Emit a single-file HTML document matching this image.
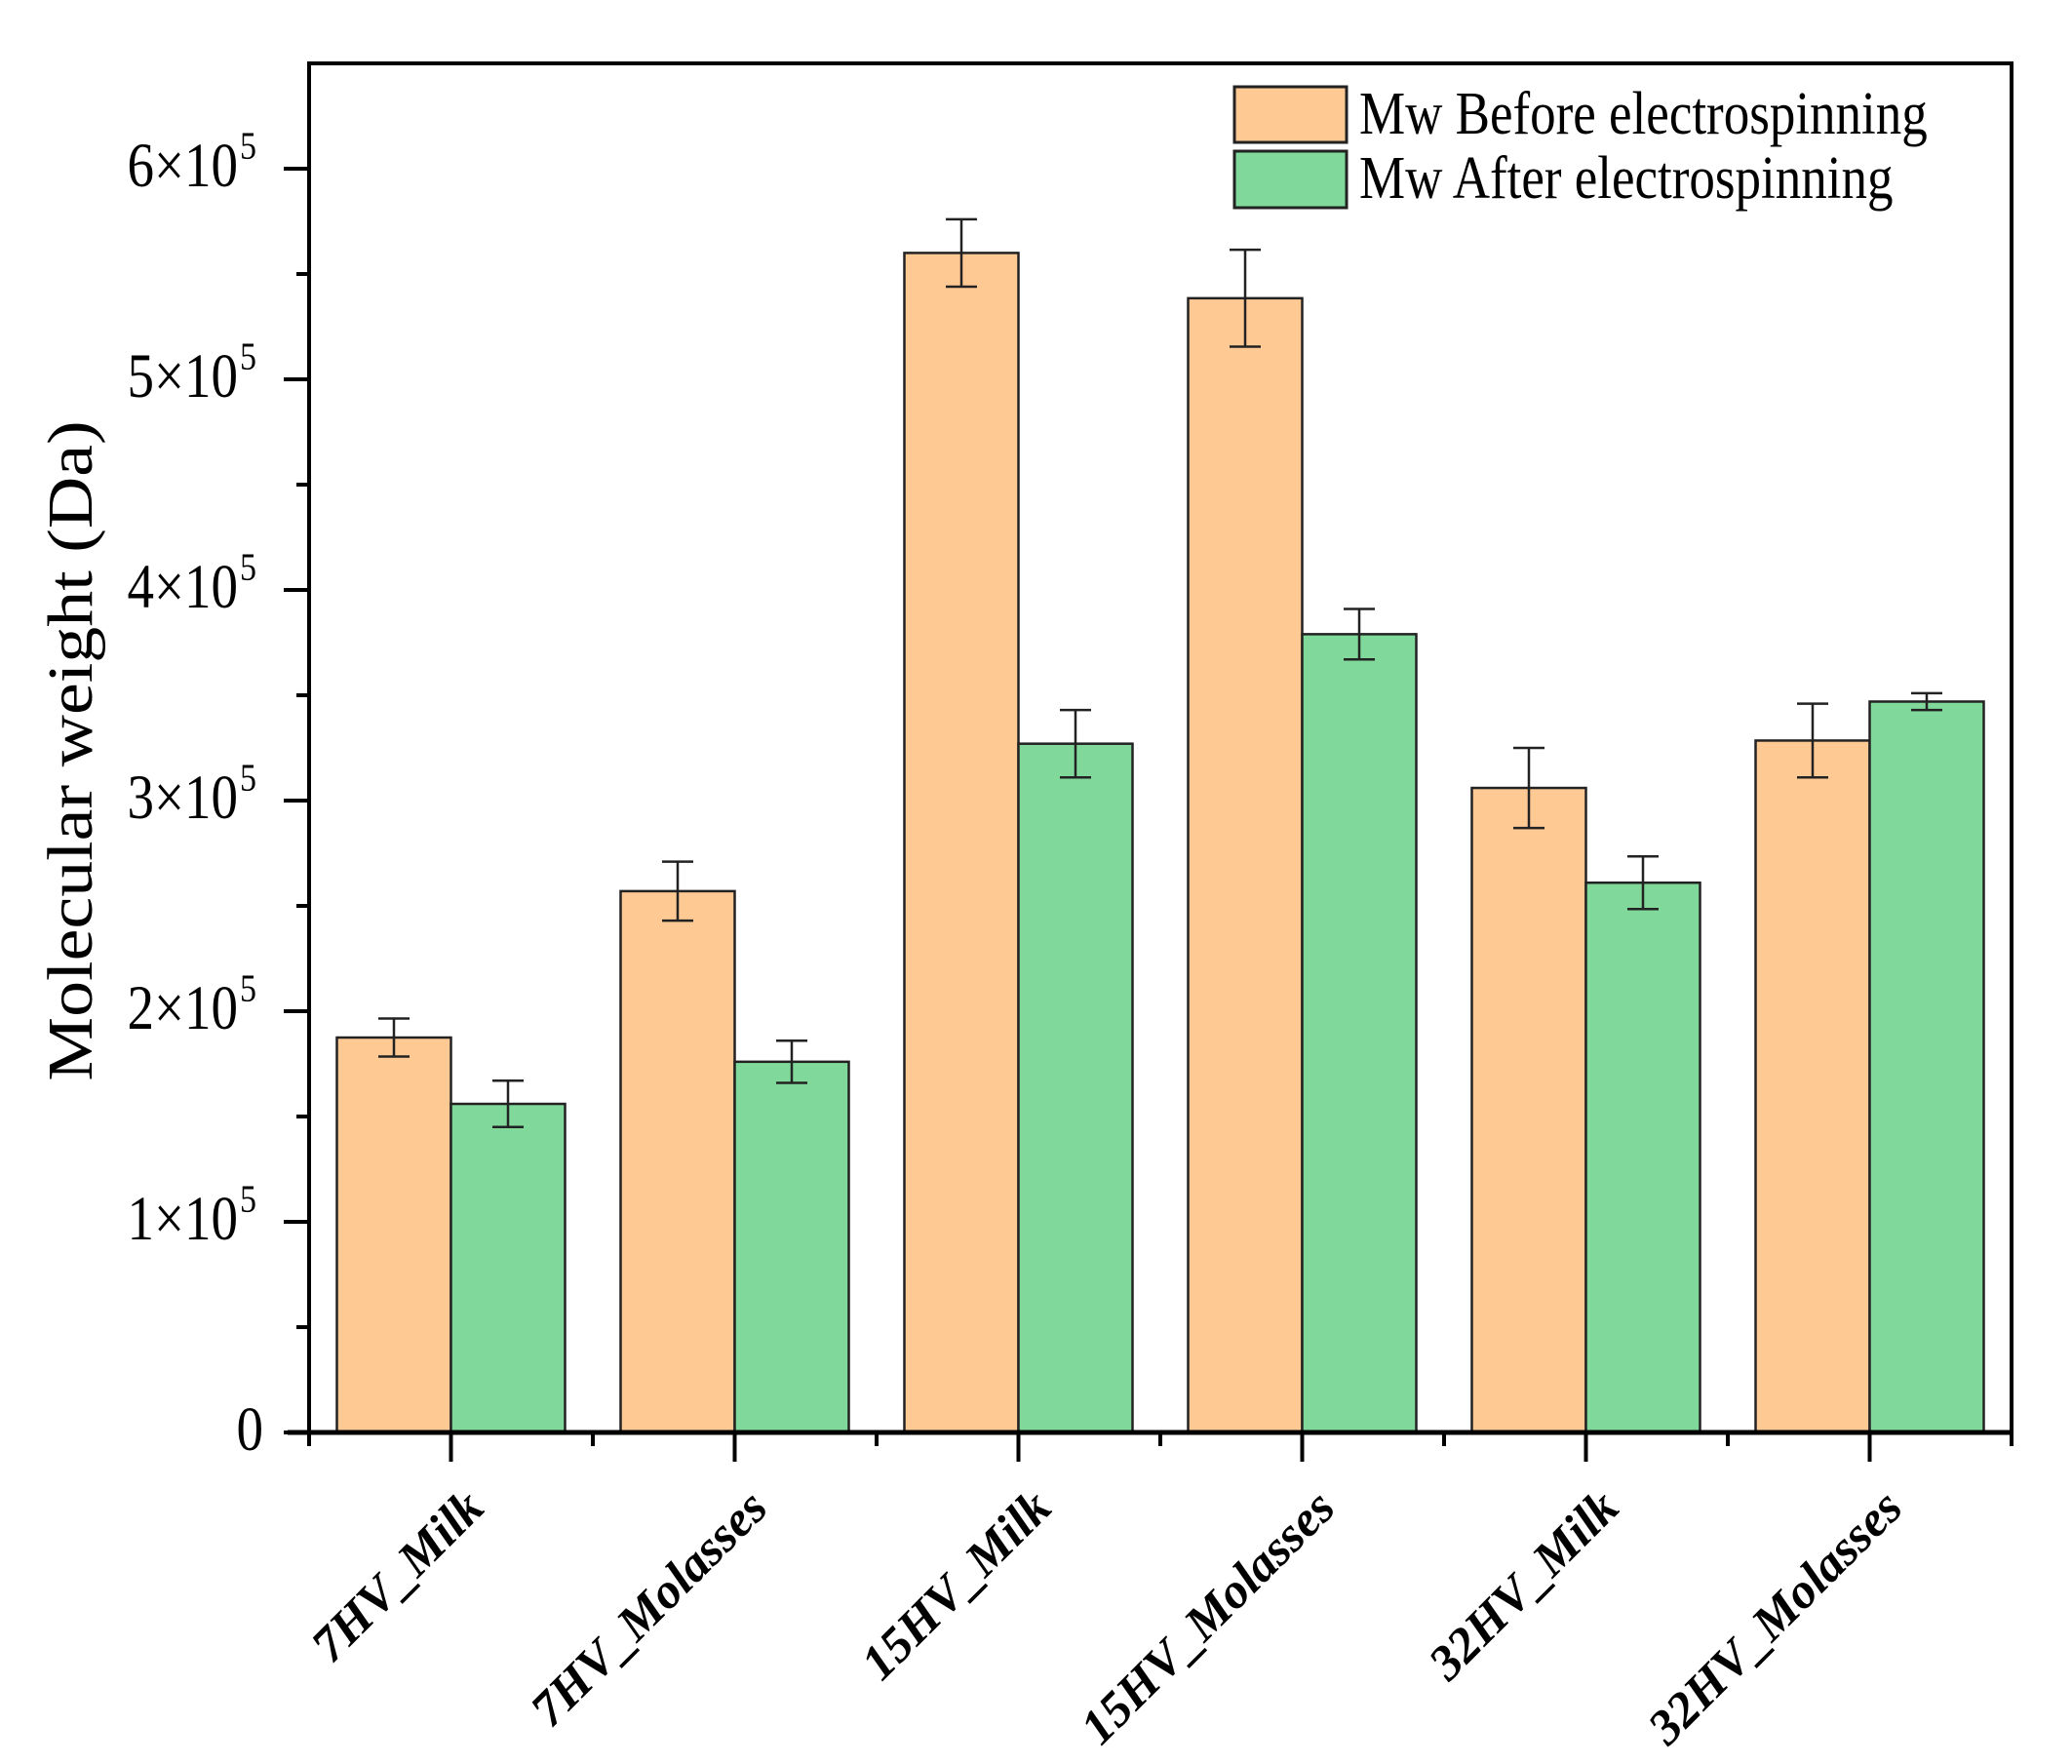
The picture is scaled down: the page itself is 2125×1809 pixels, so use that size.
<!DOCTYPE html>
<html><head><meta charset="utf-8"><style>
html,body{margin:0;padding:0;background:#fff}
svg{display:block}
text{font-family:"Liberation Serif","Times New Roman",serif;fill:#000}
</style></head><body>
<svg id="chart" width="2125" height="1809" viewBox="0 0 2125 1809" xmlns="http://www.w3.org/2000/svg">
<g id="bars"></g>
<g id="axes"></g>
<text transform="translate(94,770) rotate(-90) scale(1.12,1)" text-anchor="middle" font-size="66">Molecular weight (Da)</text>
<g>
<rect x="1266" y="89" width="115" height="57" fill="#ffc994" stroke="#222" stroke-width="3"/>
<rect x="1266" y="155" width="115" height="58" fill="#80d99b" stroke="#222" stroke-width="3"/>
<text transform="translate(1394,137) scale(1,1.17)" font-size="53">Mw Before electrospinning</text>
<text transform="translate(1394,203) scale(1,1.17)" font-size="53">Mw After electrospinning</text>
</g>
</svg>
<script>
const categories = ["7HV_Milk","7HV_Molasses","15HV_Milk","15HV_Molasses","32HV_Milk","32HV_Molasses"];
const before = [187500, 257000, 560000, 538500, 306000, 328500];
const beforeErr = [9000, 14000, 16000, 23000, 19000, 17500];
const after = [156000, 176000, 327000, 379000, 261000, 347000];
const afterErr = [11000, 10000, 16000, 12000, 12500, 4000];
const yTicks = [0,1,2,3,4,5,6];

const NS = "http://www.w3.org/2000/svg";
const X0 = 317, X1 = 2063, Y0 = 1469, YTOP = 65;
const perUnit = (1469 - 173) / 600000;
const y = v => Y0 - v * perUnit;
const step = (X1 - X0) / categories.length;
const xc = i => X0 + step * (i + 0.5);
const bw = 117;

function mk(tag, attrs, parent){
  const e = document.createElementNS(NS, tag);
  for (const k in attrs) e.setAttribute(k, attrs[k]);
  parent.appendChild(e);
  return e;
}
const bars = document.getElementById('bars');
const axes = document.getElementById('axes');

function errBar(cx, v, err, parent){
  const g = mk('g', {stroke:'#222','stroke-width':2.5,fill:'none'}, parent);
  
  
  mk('line', {x1:cx, x2:cx, y1:y(v+err), y2:y(v-err)}, g);
  mk('line', {x1:cx-16, x2:cx+16, y1:y(v+err), y2:y(v+err)}, g);
  mk('line', {x1:cx-16, x2:cx+16, y1:y(v-err), y2:y(v-err)}, g);
}

categories.forEach((c, i) => {
  const cx = xc(i);
  const b = mk('rect', {x:cx-bw, y:y(before[i]), width:bw, height:Y0-y(before[i]), fill:'#ffc994', stroke:'#222','stroke-width':2.5}, bars);
  
  
  const a = mk('rect', {x:cx, y:y(after[i]), width:bw, height:Y0-y(after[i]), fill:'#80d99b', stroke:'#222','stroke-width':2.5}, bars);
  
  
  errBar(cx - bw/2, before[i], beforeErr[i], bars);
  errBar(cx + bw/2, after[i], afterErr[i], bars);
});

const frame = mk('path', {d:`M${X0},${Y0} V${YTOP} H${X1} V${Y0}`, fill:'none', stroke:'#000','stroke-width':4}, axes);


const xaxis = mk('line', {x1:X0-22, x2:X1+2, y1:Y0, y2:Y0, stroke:'#000','stroke-width':5}, axes);



yTicks.forEach(t => {
  const yy = y(t*100000);
  mk('line', {x1:X0-26, x2:X0, y1:yy, y2:yy, stroke:'#000','stroke-width':4}, axes);
  if (t < 6) {
    const ym = y((t+0.5)*100000);
    mk('line', {x1:X0-13, x2:X0, y1:ym, y2:ym, stroke:'#000','stroke-width':4}, axes);
  }
  const tx = mk('text', {'text-anchor':'end','font-size':55, transform:`translate(${t===0?270:244},${yy+18}) scale(1,1.17)`}, axes);
  
  
  if (t === 0) tx.textContent = '0';
  else {
    tx.textContent = t + '\u00d710';
    const s = mk('text', {'font-size':34, transform:`translate(${246},${yy-10}) scale(1,1.17)`}, axes);
    s.textContent = '5';
    
    
  }
});

categories.forEach((c, i) => {
  const cx = xc(i);
  mk('line', {x1:cx, x2:cx, y1:Y0, y2:Y0+30, stroke:'#000','stroke-width':4}, axes);
  const bx = X0 + step*i;
  mk('line', {x1:bx, x2:bx, y1:Y0, y2:Y0+14, stroke:'#000','stroke-width':4}, axes);
  const lbl = mk('text', {'text-anchor':'end','font-size':51,'font-weight':'bold','font-style':'italic', transform:`translate(${cx+36},${Y0+80}) rotate(-45)`}, axes);
  lbl.textContent = c;
  
  
});
mk('line', {x1:X1, x2:X1, y1:Y0, y2:Y0+14, stroke:'#000','stroke-width':4}, axes);
</script>
</body></html>
